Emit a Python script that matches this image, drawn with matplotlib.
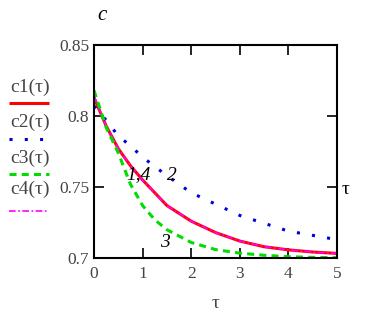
import matplotlib
matplotlib.use("Agg")
import matplotlib.pyplot as plt
from matplotlib.lines import Line2D

# values
tau1 = [0, 0.25, 0.5, 0.75, 1, 1.5, 2, 2.5, 3, 3.5, 4, 4.5, 5]
c1 = [0.813, 0.793, 0.777, 0.765, 0.755, 0.737, 0.726, 0.718, 0.712, 0.708, 0.7058, 0.7043, 0.7033]
c4 = [0.814, 0.793, 0.777, 0.765, 0.755, 0.737, 0.726, 0.718, 0.712, 0.708, 0.7058, 0.7043, 0.7033]

tau2 = [0, 0.25, 0.5, 0.75, 1, 1.5, 2, 2.5, 3, 3.5, 4, 4.5, 5]
c2 = [0.807, 0.797, 0.786, 0.779, 0.771, 0.758, 0.746, 0.738, 0.730, 0.7245, 0.719, 0.716, 0.713]

tau3 = [0, 0.25, 0.5, 0.75, 1, 1.25, 1.5, 2, 2.5, 3, 3.5, 4, 4.5, 5]
c3 = [0.818, 0.792, 0.774, 0.752, 0.737, 0.727, 0.720, 0.711, 0.706, 0.7035, 0.702, 0.701, 0.7005, 0.7003]

xticks = [0, 1, 2, 3, 4, 5]
yticks = [0.7, 0.75, 0.8, 0.85]
ytick_labels = ["0.7", "0.75", "0.8", "0.85"]
legend_names = ["c1(\u03c4)", "c2(\u03c4)", "c3(\u03c4)", "c4(\u03c4)"]

plt.rcParams['font.family'] = ['Liberation Serif', 'DejaVu Serif']
txt = '#444444'

fig = plt.figure(figsize=(3.74, 3.14), dpi=100)
ax = fig.add_axes([0.2513, 0.178, 0.6497, 0.679])

# line styles: red solid, blue dotted, green dashed, magenta dash-dot
red = dict(color='#ff0000', lw=2.2, solid_capstyle='butt')
blue = dict(color='#0000dd', lw=2.2, linestyle=(0, (1, 4)))
green = dict(color='#00dd00', lw=2.2, linestyle=(0, (2.3, 1.7)))
magenta = dict(color='#ff00ff', lw=1.2, linestyle=(0, (4, 1.5, 1, 1.5)))

ax.plot(tau1, c1, **red)
ax.plot(tau1, c4, **magenta)
ax.plot(tau2, c2, **blue)
ax.plot(tau3, c3, **green)

ax.set_xlim(0, 5)
ax.set_ylim(0.7, 0.85)
ax.set_xticks(xticks)
ax.set_yticks(yticks)
ax.set_yticklabels(ytick_labels)
ax.tick_params(direction='in', length=7, width=1.2, top=True, right=True,
               labelsize=12.5, labelcolor=txt)
ax.tick_params(axis='x', pad=6)
for s in ax.spines.values():
    s.set_linewidth(1.5)

ax.set_xlabel("\u03c4", fontsize=14, color=txt, labelpad=9)

# curve numbers
ax.text(0.92, 0.759, "1,4", fontsize=14, style='italic', ha='center', va='center')
ax.text(1.6, 0.758, "2", fontsize=14, style='italic', ha='center', va='center')
ax.text(1.45, 0.7113, "3", fontsize=14, style='italic', ha='center', va='center')

fig.text(102 / 374, 1 - 15 / 314, "c", fontsize=15, style='italic', ha='center', va='center')
fig.text(346 / 374, 1 - 190 / 314, "\u03c4", fontsize=14, ha='center', va='center')

# left legend
text_y = [87, 122, 158, 189]
line_y = [103, 139, 174, 211]
for name, st, ty, ly in zip(legend_names, [red, blue, green, magenta], text_y, line_y):
    fig.text(30 / 374, 1 - ty / 314, name, fontsize=14, color=txt, ha='center', va='center')
    fig.add_artist(Line2D([9 / 374, 49 / 374], [1 - ly / 314, 1 - ly / 314], **st))

fig.savefig("out.png", dpi=100)
